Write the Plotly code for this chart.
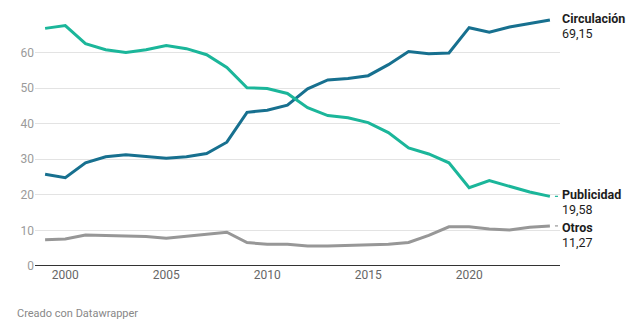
import plotly.graph_objects as go

years = list(range(1999, 2025))

circulacion = [25.8, 24.8, 29.0, 30.7, 31.3, 30.8, 30.3, 30.7, 31.6, 34.8,
               43.2, 43.8, 45.2, 49.8, 52.3, 52.7, 53.5, 56.6, 60.3, 59.7,
               59.9, 67.0, 65.7, 67.2, 68.2, 69.15]
publicidad = [66.8, 67.6, 62.5, 60.8, 60.0, 60.8, 62.0, 61.1, 59.4, 55.8,
              50.1, 49.9, 48.5, 44.5, 42.3, 41.7, 40.3, 37.5, 33.2, 31.5,
              29.0, 22.0, 24.0, 22.5, 20.8, 19.58]
otros = [7.4, 7.6, 8.7, 8.5, 8.5, 8.3, 7.8, 8.4, 9.0, 9.5,
         6.6, 6.1, 6.1, 5.6, 5.6, 5.7, 6.0, 6.1, 6.6, 8.6,
         11.0, 11.0, 10.4, 10.1, 10.9, 11.27]

series_names = ["Circulación", "Publicidad", "Otros"]
series_values = [circulacion, publicidad, otros]
series_colors = ["#17708f", "#1bb69a", "#979797"]
# vertical nudge (px) of each end label so the blocks do not collide
label_nudge = [2, 2, -2]

y_ticks = [0, 10, 20, 30, 40, 50, 60]
x_ticks = [2000, 2005, 2010, 2015, 2020]

fig = go.Figure()
for name, vals, color, nudge in zip(series_names, series_values,
                                    series_colors, label_nudge):
    fig.add_trace(go.Scatter(x=years, y=vals, mode="lines", name=name,
                             line=dict(color=color, width=3),
                             hoverinfo="skip"))

    last = vals[-1]
    label_num = f"{last:.2f}".replace(".", ",")
    fig.add_annotation(x=years[-1], y=last, xref="x", yref="y",
                       text=f"<b>{name}</b>", showarrow=False,
                       xanchor="left", yanchor="middle", xshift=10,
                       yshift=nudge,
                       font=dict(family="Roboto", size=12.5, color="#1d1d1d"))
    fig.add_annotation(x=years[-1], y=last, xref="x", yref="y",
                       text=label_num, showarrow=False,
                       xanchor="left", yanchor="middle", xshift=10,
                       yshift=nudge - 15,
                       font=dict(family="Roboto", size=12.5, color="#1d1d1d"))
    if name != "Circulación":
        # short connector between line end and its label
        fig.add_shape(type="line", xref="x", yref="y",
                      x0=years[-1] + 0.25, x1=years[-1] + 0.4, y0=last, y1=last,
                      line=dict(color=color, width=1.2))

# baseline at zero
fig.add_shape(type="line", xref="paper", yref="y", x0=0, x1=1, y0=0, y1=0,
              line=dict(color="#333333", width=2), layer="above")

fig.add_annotation(x=0, y=0, xref="paper", yref="paper",
                   text="Creado con Datawrapper", showarrow=False,
                   xanchor="left", yanchor="middle", xshift=-20,
                   yshift=-47,
                   font=dict(family="Roboto", size=11, color="#888888"))

fig.update_layout(
    width=640, height=335,
    margin=dict(l=35, r=80, t=17, b=69),
    paper_bgcolor="white", plot_bgcolor="white",
    showlegend=False,
    font=dict(family="Roboto", size=12, color="#999999"),
    xaxis=dict(range=[1998.5, 2024.5], tickvals=x_ticks,
               showgrid=False, zeroline=False, showline=False,
               ticks="", tickfont=dict(size=12, color="#666666")),
    yaxis=dict(range=[0, 70], tickvals=y_ticks, showgrid=True,
               gridcolor="#e3e3e3", gridwidth=1, zeroline=False,
               showline=False, ticks="",
               tickfont=dict(size=12, color="#9a9a9a")),
)

fig.write_html("out.html")
